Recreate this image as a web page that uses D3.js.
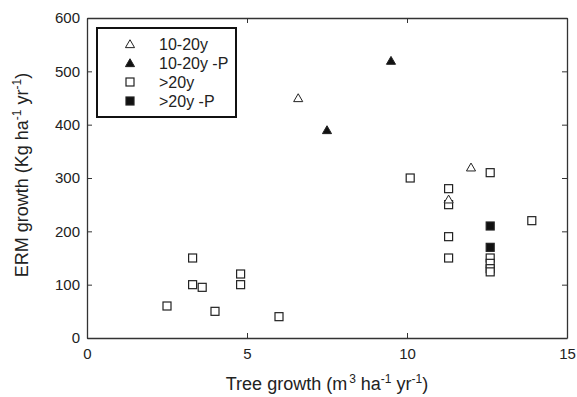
<!DOCTYPE html>
<html>
<head>
<meta charset="utf-8">
<script src="https://cdn.jsdelivr.net/npm/d3@7"></script>
<style>
  html, body { margin: 0; padding: 0; background: #fff; }
  text { font-family: "Liberation Sans", Arial, Helvetica, sans-serif; fill: #222; }
</style>
</head>
<body>
<svg id="chart" width="577" height="397"></svg>
<script>
// ---- Data ----
const seriesNames = ["10-20y", "10-20y -P", ">20y", ">20y -P"];

const young_x  = [6.6, 12.0, 11.3];
const young_y  = [450, 320, 260];

const youngP_x = [7.5, 9.5];
const youngP_y = [390, 520];

const old_x = [2.5, 3.3, 3.3, 3.6, 4.0, 4.8, 4.8, 6.0, 10.1, 11.3, 11.3, 11.3, 11.3, 12.6, 12.6, 12.6, 12.6, 12.6, 13.9];
const old_y = [60, 150, 100, 95, 50, 120, 100, 40, 300, 280, 250, 190, 150, 310, 150, 140, 130, 124, 220];

const oldP_x = [12.6, 12.6];
const oldP_y = [210, 170];

const xTicks = [0, 5, 10, 15];
const yTicks = [0, 100, 200, 300, 400, 500, 600];

// ---- Layout ----
const svg = d3.select("#chart");
const pL = 87, pR = 567, pT = 18, pB = 338;

const x = d3.scaleLinear().domain([0, 15]).range([pL, pR]);
const y = d3.scaleLinear().domain([0, 600]).range([pB, pT]);

const axisColor = "#333";
const tickLen = 5;

// Axes (inward ticks on all four sides)
const gx = svg.append("g").attr("transform", `translate(0,${pB})`)
  .call(d3.axisBottom(x).tickValues(xTicks).tickSizeInner(-tickLen).tickSizeOuter(0).tickPadding(10));
const gxt = svg.append("g").attr("transform", `translate(0,${pT})`)
  .call(d3.axisTop(x).tickValues(xTicks).tickSizeInner(-tickLen).tickSizeOuter(0).tickFormat(""));
const gy = svg.append("g").attr("transform", `translate(${pL},0)`)
  .call(d3.axisLeft(y).tickValues(yTicks).tickSizeInner(-tickLen).tickSizeOuter(0).tickPadding(7));
const gyr = svg.append("g").attr("transform", `translate(${pR},0)`)
  .call(d3.axisRight(y).tickValues(yTicks).tickSizeInner(-tickLen).tickSizeOuter(0).tickFormat(""));

[gx, gxt, gy, gyr].forEach(g => {
  g.selectAll("path.domain").attr("stroke", axisColor).attr("stroke-width", 1.3);
  g.selectAll(".tick line").attr("stroke", axisColor).attr("stroke-width", 1);
  g.selectAll(".tick text").style("font-size", "15px").style("font-family", '"Liberation Sans", Arial, sans-serif').attr("fill", "#222");
});

// Axis titles
const supShift = 7;
const xt = svg.append("text")
  .attr("x", (pL + pR) / 2 + 0)
  .attr("y", 390)
  .attr("text-anchor", "middle")
  .style("font-size", "18px");
xt.append("tspan").text("Tree growth (m");
xt.append("tspan").attr("dx", 2).attr("dy", -supShift).style("font-size", "12px").text("3");
xt.append("tspan").attr("dy", supShift).text(" ha");
xt.append("tspan").attr("dy", -supShift).style("font-size", "12px").text("-1");
xt.append("tspan").attr("dy", supShift).text(" yr");
xt.append("tspan").attr("dy", -supShift).style("font-size", "12px").text("-1");
xt.append("tspan").attr("dy", supShift).text(")");

const yt = svg.append("text")
  .attr("transform", `translate(28,${(pT + pB) / 2 - 3}) rotate(-90)`)
  .attr("text-anchor", "middle")
  .style("font-size", "18px");
yt.append("tspan").text("ERM growth (Kg ha");
yt.append("tspan").attr("dy", -supShift).style("font-size", "12px").text("-1");
yt.append("tspan").attr("dy", supShift).text(" yr");
yt.append("tspan").attr("dy", -supShift).style("font-size", "12px").text("-1");
yt.append("tspan").attr("dy", supShift).text(")");

// Markers
const triPath = d3.symbol().type(d3.symbolTriangle).size(36)();
const sqSize = 8;

function drawSquares(xs, ys, filled) {
  svg.append("g").selectAll("rect").data(xs.map((d, i) => [d, ys[i]])).join("rect")
    .attr("x", d => x(d[0]) - sqSize / 2)
    .attr("y", d => y(d[1]) - sqSize / 2)
    .attr("width", sqSize).attr("height", sqSize)
    .attr("fill", filled ? "#111" : "#fff")
    .attr("stroke", "#222").attr("stroke-width", 1.2);
}
function drawTriangles(xs, ys, filled) {
  svg.append("g").selectAll("path").data(xs.map((d, i) => [d, ys[i]])).join("path")
    .attr("d", triPath)
    .attr("transform", d => `translate(${x(d[0])},${y(d[1]) + 1})`)
    .attr("fill", filled ? "#111" : "#fff")
    .attr("stroke", "#222").attr("stroke-width", 1);
}

drawSquares(old_x, old_y, false);
drawSquares(oldP_x, oldP_y, true);
drawTriangles(young_x, young_y, false);
drawTriangles(youngP_x, youngP_y, true);

// Legend
const lg = svg.append("g");
lg.append("rect").attr("x", 97).attr("y", 28).attr("width", 139).attr("height", 89)
  .attr("fill", "#fff").attr("stroke", "#111").attr("stroke-width", 2);
const legendItems = [
  {name: seriesNames[0], shape: "tri", filled: false},
  {name: seriesNames[1], shape: "tri", filled: true},
  {name: seriesNames[2], shape: "sq", filled: false},
  {name: seriesNames[3], shape: "sq", filled: true}
];
legendItems.forEach((it, i) => {
  const cy = 44 + i * 19;
  if (it.shape === "tri") {
    lg.append("path").attr("d", triPath).attr("transform", `translate(130,${cy + 1})`)
      .attr("fill", it.filled ? "#111" : "#fff").attr("stroke", "#222").attr("stroke-width", 1);
  } else {
    lg.append("rect").attr("x", 130 - sqSize / 2).attr("y", cy - sqSize / 2)
      .attr("width", sqSize).attr("height", sqSize)
      .attr("fill", it.filled ? "#111" : "#fff").attr("stroke", "#222").attr("stroke-width", 1.2);
  }
  lg.append("text").attr("x", 159).attr("y", cy + 6).style("font-size", "16px").text(it.name);
});
</script>
</body>
</html>
